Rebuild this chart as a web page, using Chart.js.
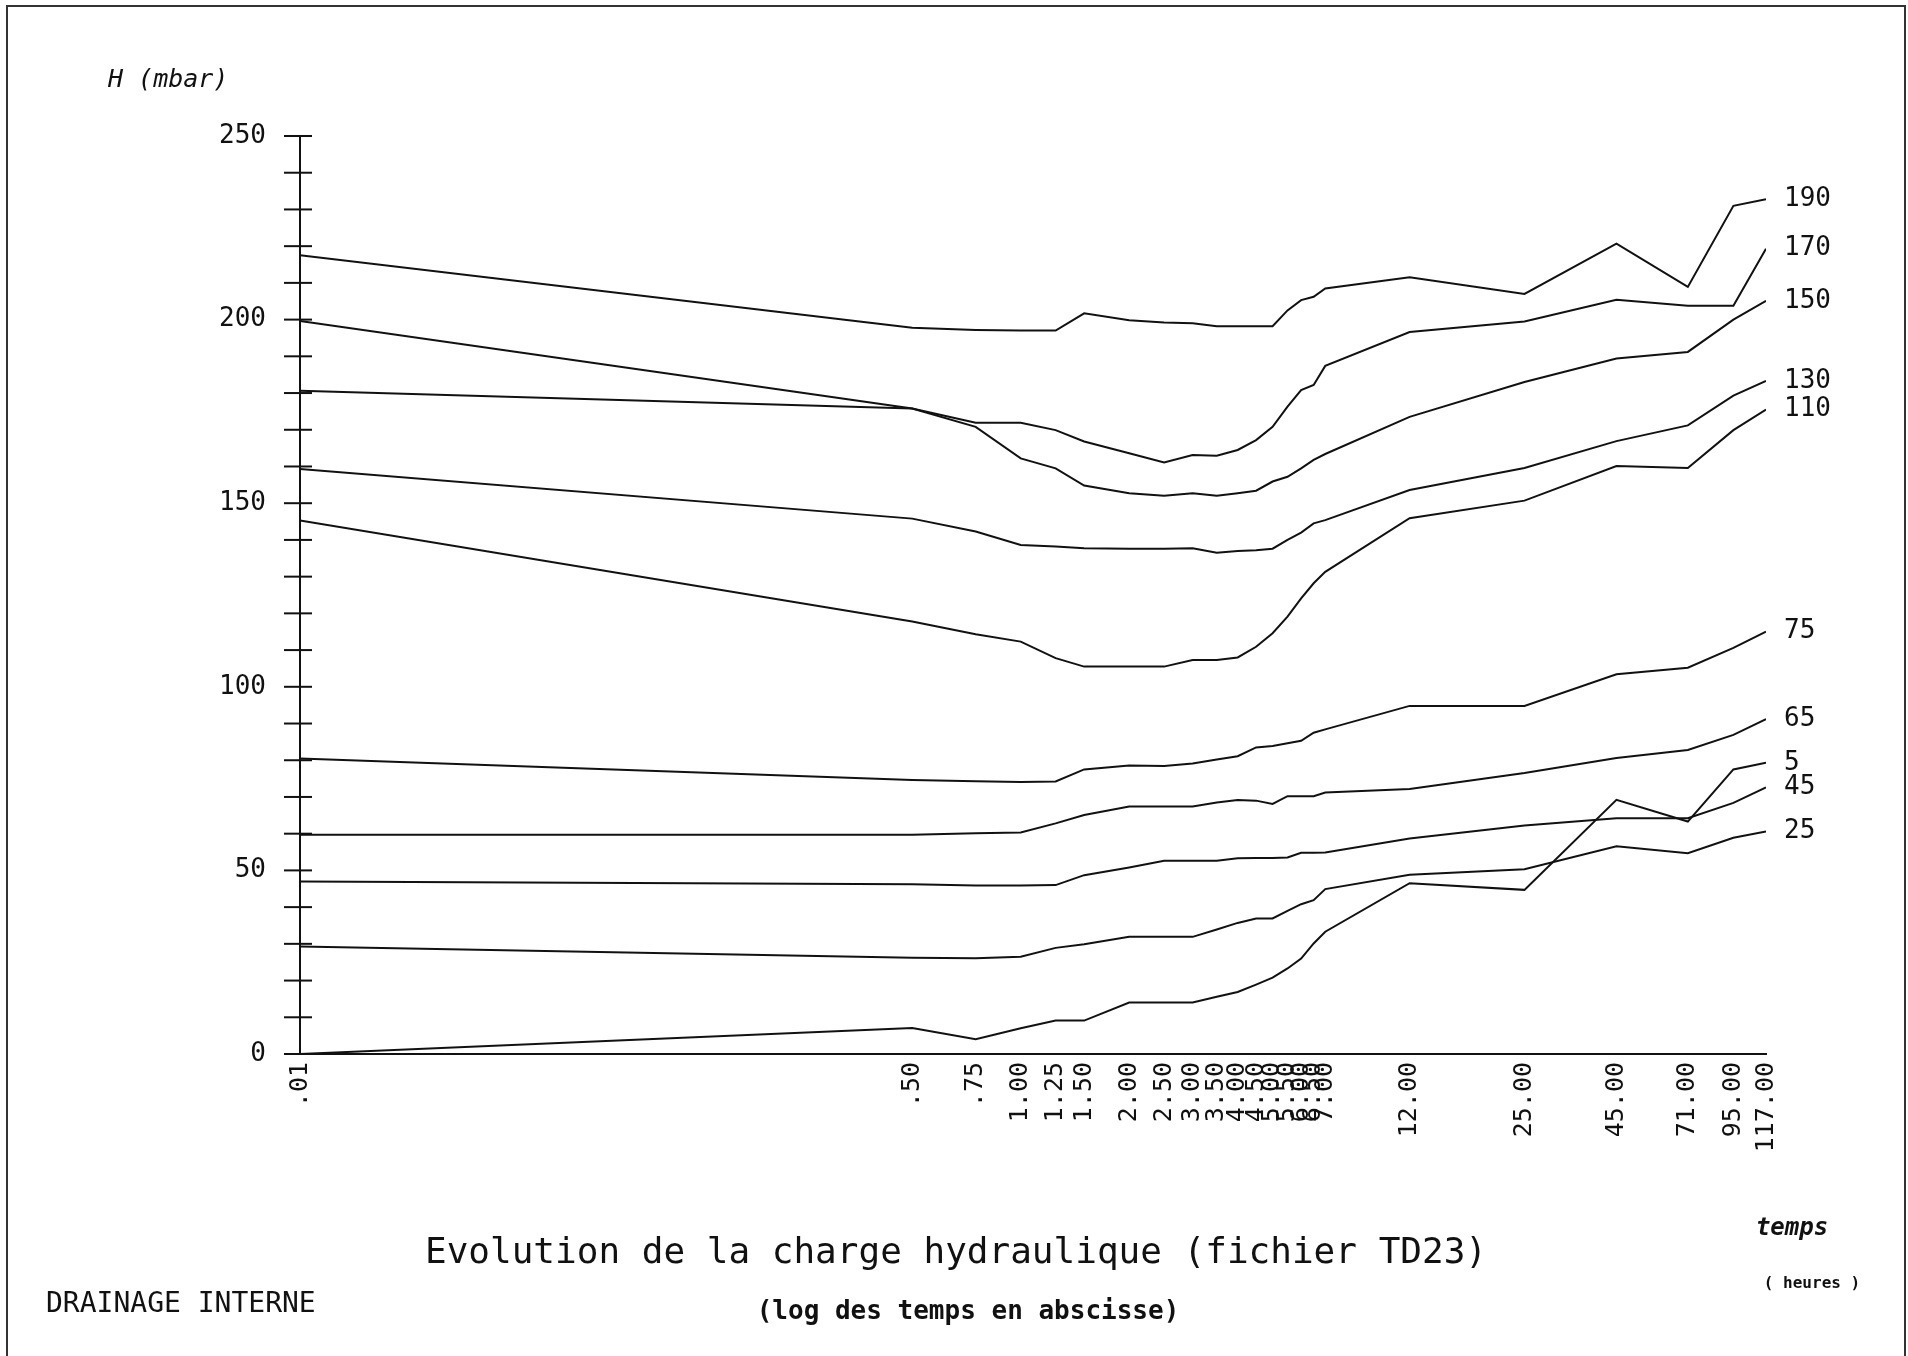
<!DOCTYPE html>
<html>
<head>
<meta charset="utf-8">
<script src="https://cdn.jsdelivr.net/npm/chart.js@4.4.1/dist/chart.umd.min.js"></script>
<style>
  html, body { margin: 0; padding: 0; background: #fff; }
  canvas { display: block; }
</style>
</head>
<body>
<canvas id="chart" width="1908" height="1356"></canvas>
<script>
// time in hours (log axis)
const times = [0.01, 0.5, 0.75, 1, 1.25, 1.5, 2, 2.5, 3, 3.5, 4, 4.5, 5, 5.5, 6, 6.5, 7, 12, 25, 45, 71, 95, 117];

// hydraulic head H (mbar) per probe depth
const h190 = [217.5, 197.8, 197.2, 197.0, 197.0, 201.7, 199.8, 199.2, 199.0, 198.2, 198.2, 198.2, 198.2, 202.5, 205.3, 206.2, 208.5, 211.5, 207.0, 220.7, 208.9, 231.0, 232.8];
const h170 = [199.6, 175.8, 171.9, 171.9, 169.9, 166.8, 163.6, 161.1, 163.1, 162.9, 164.5, 167.2, 170.8, 176.3, 180.8, 182.2, 187.4, 196.6, 199.5, 205.4, 203.8, 203.8, 219.3];
const h150 = [180.6, 175.8, 170.8, 162.2, 159.5, 154.8, 152.7, 152.0, 152.7, 152.0, 152.7, 153.4, 155.9, 157.2, 159.5, 161.8, 163.4, 173.5, 183.0, 189.4, 191.2, 200.0, 205.1];
const h130 = [159.3, 145.8, 142.3, 138.6, 138.2, 137.7, 137.6, 137.6, 137.7, 136.5, 137.0, 137.2, 137.6, 140.0, 142.0, 144.5, 145.4, 153.6, 159.6, 166.9, 171.2, 179.3, 183.3];
const h110 = [145.3, 117.8, 114.3, 112.3, 107.8, 105.5, 105.5, 105.5, 107.3, 107.3, 108.0, 110.9, 114.6, 119.1, 124.1, 128.2, 131.3, 145.9, 150.7, 160.1, 159.6, 169.9, 175.5];
const h75 = [80.5, 74.6, 74.3, 74.1, 74.2, 77.5, 78.6, 78.4, 79.1, 80.2, 81.1, 83.5, 83.9, 84.6, 85.3, 87.5, 88.4, 94.8, 94.8, 103.4, 105.2, 110.6, 115.0];
const h65 = [59.7, 59.7, 60.1, 60.3, 62.8, 65.1, 67.4, 67.4, 67.4, 68.5, 69.2, 69.0, 68.1, 70.2, 70.2, 70.2, 71.2, 72.2, 76.5, 80.6, 82.8, 86.9, 91.2];
const h45 = [47.0, 46.2, 45.9, 45.9, 46.0, 48.7, 50.8, 52.6, 52.6, 52.6, 53.3, 53.4, 53.4, 53.5, 54.8, 54.8, 54.9, 58.7, 62.2, 64.2, 64.2, 68.4, 72.6];
const h25 = [29.3, 26.2, 26.1, 26.5, 28.9, 29.9, 31.9, 31.9, 31.9, 33.9, 35.7, 36.9, 36.9, 39.0, 40.8, 41.9, 44.9, 48.8, 50.3, 56.6, 54.7, 58.9, 60.6];
const h5 = [0, 7.1, 4.0, 7.0, 9.1, 9.1, 14.0, 14.0, 14.0, 15.6, 16.9, 18.9, 20.8, 23.3, 26.0, 30.1, 33.3, 46.5, 44.7, 69.2, 63.3, 77.5, 79.3];

const seriesNames = ['190', '170', '150', '130', '110', '75', '65', '5', '45', '25'];
const seriesValues = [h190, h170, h150, h130, h110, h75, h65, h5, h45, h25];

const mono = '"DejaVu Sans Mono", "Liberation Mono", monospace';

function fmtTime(v) {
  const s = Number(v).toFixed(2);
  return v < 1 ? s.slice(1) : s;
}

// y ticks cross the axis line like on the plotter output
const crossTicks = {
  id: 'crossTicks',
  afterDatasetsDraw(chart) {
    const ys = chart.scales.y, ctx = chart.ctx, x0 = chart.chartArea.left;
    ctx.save();
    ctx.strokeStyle = '#111';
    ctx.lineWidth = 2;
    ys.ticks.forEach(t => {
      const py = ys.getPixelForValue(t.value);
      ctx.beginPath();
      ctx.moveTo(x0 - 16, py);
      ctx.lineTo(x0 + 12, py);
      ctx.stroke();
    });
    ctx.restore();
  }
};

// curve names at the line ends + the captions around the plot
const annotations = {
  id: 'annotations',
  afterDraw(chart) {
    const ctx = chart.ctx;
    ctx.save();
    ctx.fillStyle = '#111';
    ctx.textBaseline = 'middle';
    ctx.font = '26px ' + mono;
    ctx.textAlign = 'left';
    chart.data.datasets.forEach((ds, i) => {
      const pts = chart.getDatasetMeta(i).data;
      const p = pts[pts.length - 1];
      ctx.fillText(ds.label, p.x + 18, p.y);
    });

    ctx.font = 'italic 25px ' + mono;
    ctx.fillText('H (mbar)', 108, 80);

    ctx.textAlign = 'center';
    ctx.font = '36px ' + mono;
    ctx.fillText('Evolution de la charge hydraulique (fichier TD23)', 956, 1254);
    ctx.font = 'bold 26px ' + mono;
    ctx.fillText('(log des temps en abscisse)', 968, 1312);
    ctx.font = 'bold italic 24px ' + mono;
    ctx.fillText('temps', 1792, 1229);
    ctx.font = 'bold 16px ' + mono;
    ctx.fillText('( heures )', 1812, 1284);

    ctx.textAlign = 'left';
    ctx.font = '28px ' + mono;
    ctx.fillText('DRAINAGE INTERNE', 46, 1305);

    // page frame
    ctx.strokeStyle = '#333';
    ctx.lineWidth = 2;
    ctx.beginPath();
    ctx.moveTo(7, 1356);
    ctx.lineTo(7, 6);
    ctx.lineTo(1905, 6);
    ctx.lineTo(1905, 1356);
    ctx.stroke();
    ctx.restore();
  }
};

new Chart(document.getElementById('chart').getContext('2d'), {
  type: 'line',
  data: {
    datasets: seriesNames.map((name, i) => ({
      label: name,
      data: times.map((t, j) => ({ x: t, y: seriesValues[i][j] })),
      borderColor: '#111',
      borderWidth: 2,
      pointRadius: 0,
      tension: 0,
      fill: false
    }))
  },
  options: {
    responsive: false,
    animation: false,
    devicePixelRatio: 1,
    layout: { padding: { left: 0, top: 136, right: 142, bottom: 0 } },
    plugins: { legend: { display: false }, tooltip: { enabled: false } },
    scales: {
      x: {
        type: 'logarithmic',
        min: 0.01,
        max: 117,
        afterBuildTicks: s => { s.ticks = times.map(v => ({ value: v })); },
        afterFit: s => { s.height = 302; },
        grid: { display: false, drawTicks: false },
        border: { display: true, color: '#111', width: 2 },
        ticks: {
          autoSkip: false,
          minRotation: 90,
          maxRotation: 90,
          padding: 8,
          color: '#111',
          font: { family: mono, size: 25 },
          callback: v => fmtTime(v)
        }
      },
      y: {
        min: 0,
        max: 250,
        afterFit: s => { s.width = 300; },
        grid: { display: false, drawTicks: false },
        border: { display: true, color: '#111', width: 2 },
        ticks: {
          stepSize: 10,
          padding: 34,
          color: '#111',
          font: { family: mono, size: 26 },
          callback: v => (v % 50 === 0 ? String(v) : '')
        }
      }
    }
  },
  plugins: [crossTicks, annotations]
});
</script>
</body>
</html>
